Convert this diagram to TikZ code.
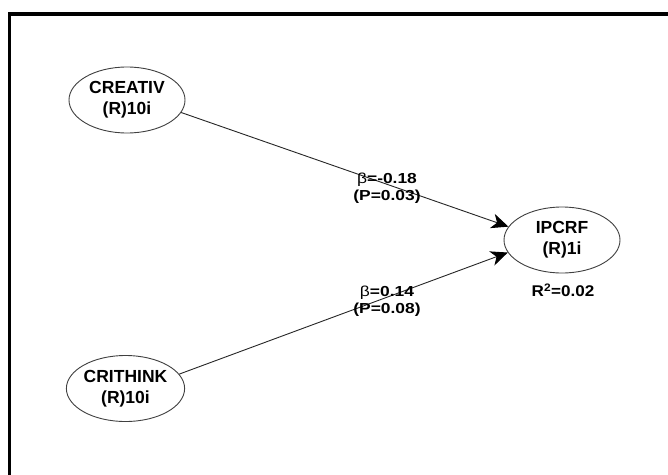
\documentclass[tikz,border=0pt]{standalone}
\usepackage{fontspec}
\setmainfont{Liberation Sans}
\newfontfamily\labfont[FakeStretch=1.2]{Liberation Sans}
\newfontfamily\rfont[FakeStretch=1.1]{Liberation Sans}
\usetikzlibrary{shapes.geometric,arrows.meta}
\begin{document}
\begin{tikzpicture}[x=1pt,y=-1pt,
  latent/.style={ellipse,draw=black!75,line width=0.9pt,minimum width=116pt,minimum height=66pt,inner sep=0pt,align=center,font=\fontsize{17.5}{21}\selectfont\bfseries},
  pathline/.style={draw=black!85,line width=0.9pt,-{Stealth[length=17pt,width=15pt,inset=5pt,black]}},
  coef/.style={align=center,inner sep=0pt,font=\labfont\fontsize{14.5}{17}\selectfont\bfseries},
  rsq/.style={inner sep=0pt,font=\rfont\fontsize{15.5}{17}\selectfont\bfseries},
  frame/.style={draw=black,line width=3.8pt,miter limit=10}
]
\useasboundingbox[fill=white] (0,0) rectangle (668,474);
\draw[frame] (9.5,480) -- (9.5,13.7) -- (675,13.7);

\node[latent] (creativ) at (127,100) {CREATIV\\(R)10i};
\node[latent] (crithink) at (125.5,388.5) {CRITHINK\\(R)10i};
\node[latent] (ipcrf) at (562,240) {IPCRF\\(R)1i};

\draw[pathline] (creativ.-13.3) -- (ipcrf.166.7);
\draw[pathline] (crithink.15.3) -- (ipcrf.193.3);

\node[coef] (c1) at (387,188) {{\mdseries β}=-0.18\\(P=0.03)};
\node[coef] (c2) at (387,301) {{\mdseries β}=0.14\\(P=0.08)};
\node[rsq] (r2) at (563,290) {R\textsuperscript{2}=0.02};
\end{tikzpicture}
\end{document}
